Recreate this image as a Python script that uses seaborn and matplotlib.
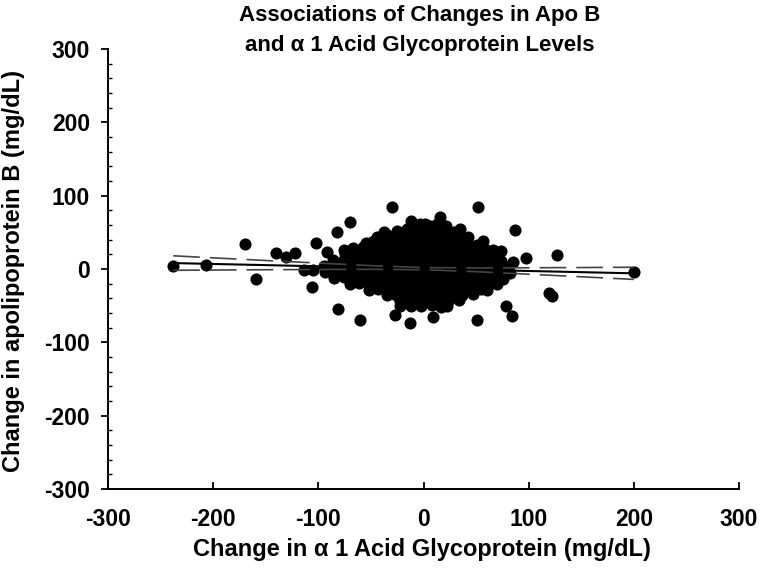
import matplotlib
matplotlib.use("Agg")
import matplotlib.pyplot as plt
from matplotlib.ticker import MultipleLocator
import numpy as np
import pandas as pd
import seaborn as sns

sns.set_theme(style="white")
plt.rcParams["font.family"] = ["Liberation Sans", "DejaVu Sans"]
plt.rcParams["font.weight"] = "bold"

# ---- data ----
# sparse / outlying observations
outlier_x = [-238, -207, -170, -159, -140, -131, -122, -114, -105, -106, -102, -92,
             -82, -76, -70, -81, -60, -49, -38, -30, -27, -22, -13, -12, 1, 16, 9,
             17, 35, 52, 57, 66, 74, 85, 87, 97, 127, 119, 122, 78, 84, 51, 200]
outlier_y = [4, 5, 34, -13, 22, 17, 22, -1, -1, -24, 36, 23,
             50, 26, 64, -55, -69, 37, 50, 84, -63, -51, -74, 66, 62, 71, -65,
             -45, 55, 85, 38, 26, 24, 9, 53, 15, 19, -33, -37, -51, -64, -70, -4]

# dense central cloud
core_x = [-12, -3, 6, 13, 21,
          -25, -16, -7, 2, 11, 19, 29,
          -44, -35, -26, -18, -9, 1, 10, 19, 28, 36, 42,
          -55, -47, -38, -29, -21, -12, -3, 7, 15, 24, 33, 41, 51,
          -67, -58, -49, -41, -31, -22, -13, -4, 5, 14, 23, 32, 41, 50, 59,
          -75, -66, -57, -48, -39, -29, -20, -11, -1, 8, 17, 26, 35, 44, 53, 61, 66,
          -86, -77, -68, -59, -50, -41, -32, -23, -14, -5, 4, 13, 22, 31, 40, 49, 58, 66, 74,
          -95, -86, -77, -68, -59, -50, -41, -32, -23, -14, -5, 4, 13, 22, 31, 40, 49, 58, 67, 75, 80,
          -94, -85, -76, -67, -58, -49, -40, -31, -22, -13, -4, 5, 14, 23, 32, 41, 50, 59, 68, 76, 82,
          -85, -76, -67, -58, -49, -40, -31, -22, -13, -4, 5, 14, 23, 32, 41, 50, 59, 68, 76,
          -70, -61, -52, -43, -34, -25, -16, -7, 2, 11, 20, 29, 38, 47, 56, 64, 70,
          -52, -43, -34, -25, -16, -7, 2, 11, 20, 29, 38, 47, 55, 60,
          -35, -26, -17, -8, 1, 10, 19, 28, 37, 47,
          -22, -13, -4, 5, 14, 23, 34,
          -12, -2, 8, 17, 22]
core_y = [60, 62, 58, 61, 59,
          52, 54, 51, 53, 50, 53, 51,
          44, 46, 43, 45, 47, 44, 46, 43, 45, 42, 44,
          36, 38, 35, 37, 34, 38, 36, 35, 37, 34, 36, 35, 33,
          28, 30, 27, 29, 26, 29, 28, 27, 30, 28, 26, 29, 27, 28, 26,
          20, 21, 19, 22, 20, 18, 21, 20, 19, 22, 20, 18, 21, 19, 20, 18, 21,
          12, 11, 13, 12, 10, 13, 11, 12, 14, 11, 12, 13, 10, 12, 11, 13, 12, 10, 11,
          4, 5, 3, 4, 6, 3, 5, 4, 2, 5, 4, 3, 6, 4, 5, 3, 4, 2, 5, 4, 3,
          -4, -3, -5, -4, -2, -5, -3, -4, -6, -3, -4, -5, -2, -4, -3, -5, -4, -6, -3, -4, -5,
          -12, -11, -13, -12, -10, -13, -11, -12, -14, -11, -12, -13, -10, -12, -11, -13, -12, -11, -13,
          -20, -19, -21, -20, -22, -19, -21, -20, -18, -21, -20, -22, -19, -20, -21, -19, -20,
          -28, -27, -29, -28, -26, -29, -28, -27, -30, -28, -26, -29, -27, -28,
          -36, -35, -37, -36, -38, -35, -36, -37, -35, -34,
          -44, -43, -45, -44, -42, -44, -42,
          -50, -51, -49, -52, -50]

# regression line and its confidence limits
fit_x = [-238, 200]
fit_y = [8.1, -5.9]
band_x = [-238, -200, -150, -100, -50, 0, 50, 100, 150, 200]
band_upper = [18.0, 15.2, 11.6, 8.1, 4.6, 2.0, 1.4, 1.7, 2.0, 2.4]
band_lower = [-1.8, -1.4, -1.0, -0.7, -0.4, -1.0, -3.6, -7.1, -10.6, -14.2]

title_lines = ["Associations of Changes in Apo B", "and \u03b1 1 Acid Glycoprotein Levels"]
x_label = "Change in \u03b1 1 Acid Glycoprotein (mg/dL)"
y_label = "Change in apolipoprotein B (mg/dL)"
ticks = [-300, -200, -100, 0, 100, 200, 300]

df = pd.DataFrame({"x": outlier_x + core_x, "y": outlier_y + core_y})

fig = plt.figure(figsize=(7.6, 5.71), dpi=100)
ax = fig.add_axes([108 / 760, 1 - 489 / 571, (739 - 108) / 760, (489 - 49) / 571])

sns.scatterplot(data=df, x="x", y="y", ax=ax, color="black", s=76,
                linewidth=0, edgecolor="black", legend=False, zorder=2)
ax.plot(fit_x, fit_y, color="black", lw=1.5, zorder=3)
ax.plot(band_x, band_upper, color="#444444", lw=1.2, dashes=(16, 6), zorder=3)
ax.plot(band_x, band_lower, color="#444444", lw=1.2, dashes=(16, 6), zorder=3)

ax.set_xlim(-300, 300)
ax.set_ylim(-300, 300)
ax.set_xticks(ticks)
ax.set_yticks(ticks)
ax.set_xticklabels([str(t) for t in ticks])
ax.set_yticklabels([str(t) for t in ticks])
ax.yaxis.set_minor_locator(MultipleLocator(20))

sns.despine(ax=ax)
for s in ("left", "bottom"):
    ax.spines[s].set_color("black")
    ax.spines[s].set_linewidth(1.4)

ax.tick_params(axis="y", which="major", direction="out", length=5, width=1.3,
               left=True, color="black", labelsize=16.5, pad=8)
ax.tick_params(axis="y", which="minor", direction="in", length=3, width=1.0,
               left=True, color="black")
ax.tick_params(axis="x", which="major", direction="in", length=5, width=1.3,
               bottom=True, color="black", labelsize=16.5, pad=14)
for lbl in ax.get_xticklabels() + ax.get_yticklabels():
    lbl.set_fontweight("bold")
    lbl.set_color("black")

ax.set_xlabel(x_label, fontsize=17, fontweight="bold", color="black")
ax.set_ylabel(y_label, fontsize=17, fontweight="bold", color="black")
ax.xaxis.set_label_coords(0.497, -0.111)
ax.yaxis.set_label_coords(-0.132, 0.495)

fig.text(420 / 760, 1 - 16 / 571, title_lines[0], ha="center", va="center",
         fontsize=16, fontweight="bold", color="black")
fig.text(420 / 760, 1 - 46 / 571, title_lines[1], ha="center", va="center",
         fontsize=16, fontweight="bold", color="black")

fig.savefig("out.png", dpi=100, facecolor="white")
